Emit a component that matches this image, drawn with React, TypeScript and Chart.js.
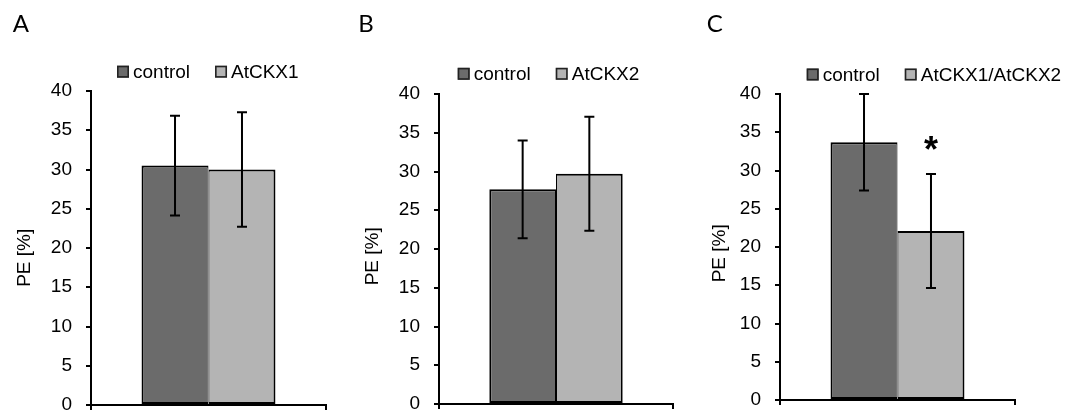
import React, { useEffect, useRef } from "react";
import { Chart, registerables } from "chart.js";

Chart.register(...registerables);

// ---------- data ----------
const categories = [""];
const panelLetters = ["A", "B", "C"];
const controlName = "control";
const treatmentNames = ["AtCKX1", "AtCKX2", "AtCKX1/AtCKX2"];
const controlMeans = [30.5, 27.7, 33.7];
const controlErrors = [6.35, 6.3, 6.3];
const treatmentMeans = [30.0, 29.7, 22.1];
const treatmentErrors = [7.3, 7.35, 7.45];
const treatmentMarks = ["", "", "*"];
const yMin = 0;
const yMax = 40;
const yStep = 5;
const yAxisTitle = "PE [%]";

// ---------- style ----------
const FONT = "'Liberation Sans', Arial, Helvetica, sans-serif";
const CONTROL_COLOR = "#6b6b6b";
const TREAT_COLOR = "#b4b4b4";
const CANVAS_H = 412;

type PanelLayout = {
  left: number;
  width: number;
  l: number;
  r: number;
  t: number;
  b: number;
  legendX: number;
  legendY: number;
  titleX: number;
  titleY: number;
  letterX: number;
};

const LAYOUT: PanelLayout[] = [
  { left: 0, width: 345, l: 91, r: 326, t: 91, b: 405, legendX: 117, legendY: 71.7, titleX: 25, titleY: 257.8, letterX: 12.7 },
  { left: 345, width: 355, l: 439, r: 673, t: 94, b: 404, legendX: 457.7, legendY: 73.8, titleX: 372.7, titleY: 256.3, letterX: 358.3 },
  { left: 700, width: 367, l: 780, r: 1015, t: 94, b: 400, legendX: 806.7, legendY: 74.5, titleX: 720, titleY: 253.3, letterX: 706.7 },
];

const decorPlugin = {
  id: "decor",
  afterDatasetsDraw(chart: any, _args: any, opts: any) {
    const ctx = chart.ctx as CanvasRenderingContext2D;
    const y = chart.scales.y;
    ctx.save();
    ctx.strokeStyle = "#000";
    ctx.lineWidth = 2;
    chart.data.datasets.forEach((ds: any, di: number) => {
      const meta = chart.getDatasetMeta(di);
      meta.data.forEach((bar: any, j: number) => {
        const v = ds.data[j];
        const e = opts.errors[di][j];
        const x = bar.x;
        const yt = y.getPixelForValue(v + e);
        const yb = y.getPixelForValue(v - e);
        ctx.beginPath();
        ctx.moveTo(x, yt);
        ctx.lineTo(x, yb);
        ctx.moveTo(x - 5, yt);
        ctx.lineTo(x + 5, yt);
        ctx.moveTo(x - 5, yb);
        ctx.lineTo(x + 5, yb);
        ctx.stroke();
        const mark = opts.marks[di] ? opts.marks[di][j] : "";
        if (mark) {
          ctx.fillStyle = "#000";
          ctx.font = `bold 36px ${FONT}`;
          ctx.textAlign = "center";
          ctx.textBaseline = "alphabetic";
          const m = ctx.measureText(mark);
          const cy = yt - 30.5;
          const base = cy + (m.actualBoundingBoxAscent - m.actualBoundingBoxDescent) / 2;
          ctx.fillText(mark, x, base);
        }
      });
    });
    ctx.restore();
  },
  afterDraw(chart: any, _args: any, opts: any) {
    const ctx = chart.ctx as CanvasRenderingContext2D;
    ctx.save();
    // legend
    ctx.font = `19px ${FONT}`;
    ctx.textBaseline = "middle";
    ctx.textAlign = "left";
    let x = opts.legendX;
    const cy = opts.legendY;
    chart.data.datasets.forEach((ds: any) => {
      ctx.fillStyle = ds.backgroundColor;
      ctx.fillRect(x, cy - 6, 12, 12);
      ctx.strokeStyle = "#222";
      ctx.lineWidth = 1.6;
      ctx.strokeRect(x + 0.8, cy - 5.2, 10.4, 10.4);
      ctx.fillStyle = "#000";
      ctx.fillText(ds.label, x + 16, cy + 1);
      x += 16 + ctx.measureText(ds.label).width + 25;
    });
    // y title
    ctx.save();
    ctx.translate(opts.titleX, opts.titleY);
    ctx.rotate(-Math.PI / 2);
    ctx.textAlign = "center";
    ctx.textBaseline = "middle";
    ctx.fillStyle = "#000";
    ctx.font = `19px ${FONT}`;
    ctx.fillText(opts.title, 0, 0);
    ctx.restore();
    // panel letter
    ctx.font = `24px Lato, 'Open Sans', sans-serif`;
    ctx.textAlign = "left";
    ctx.textBaseline = "alphabetic";
    ctx.fillStyle = "#000";
    ctx.fillText(opts.letter, opts.letterX, 32);
    ctx.restore();
  },
};

function Panel({ index }: { index: number }) {
  const ref = useRef<HTMLCanvasElement | null>(null);
  const L = LAYOUT[index];
  useEffect(() => {
    if (!ref.current) return;
    const yWidth = L.l - L.left;
    const xHeight = CANVAS_H - L.b;
    const chart = new Chart(ref.current, {
      type: "bar",
      data: {
        labels: categories,
        datasets: [
          {
            label: controlName,
            data: [controlMeans[index]],
            backgroundColor: CONTROL_COLOR,
            borderColor: "#000",
            borderWidth: { top: 2, left: 2, right: 1, bottom: 2 },
            borderSkipped: false,
          },
          {
            label: treatmentNames[index],
            data: [treatmentMeans[index]],
            backgroundColor: TREAT_COLOR,
            borderColor: "#000",
            borderWidth: { top: 2, left: 1, right: 2, bottom: 2 },
            borderSkipped: false,
          },
        ],
      },
      options: {
        animation: false,
        responsive: false,
        maintainAspectRatio: false,
        devicePixelRatio: 1,
        layout: {
          padding: { top: L.t, left: 0, bottom: 0, right: L.left + L.width - L.r },
        },
        datasets: {
          bar: { categoryPercentage: 0.57, barPercentage: 1 },
        },
        scales: {
          x: {
            offset: true,
            grid: {
              display: true,
              offset: true,
              drawOnChartArea: false,
              drawTicks: true,
              tickLength: 5,
              color: "#000",
              lineWidth: 2,
            },
            border: { display: true, color: "#000", width: 2 },
            ticks: { display: false },
            afterFit: (s: any) => {
              s.height = xHeight;
              s.paddingLeft = 0;
              s.paddingRight = 0;
            },
          },
          y: {
            min: yMin,
            max: yMax,
            ticks: {
              stepSize: yStep,
              color: "#000",
              padding: 14,
              font: { family: FONT, size: 19 },
            },
            grid: {
              drawOnChartArea: false,
              drawTicks: true,
              tickLength: 5,
              color: "#000",
              lineWidth: 2,
            },
            border: { display: true, color: "#000", width: 2 },
            afterFit: (s: any) => {
              s.width = yWidth;
              s.paddingTop = 0;
              s.paddingBottom = 0;
            },
          },
        },
        plugins: {
          legend: { display: false },
          tooltip: { enabled: false },
          decor: {
            errors: [[controlErrors[index]], [treatmentErrors[index]]],
            marks: [[""], [treatmentMarks[index]]],
            legendX: L.legendX - L.left,
            legendY: L.legendY,
            titleX: L.titleX - L.left,
            titleY: L.titleY,
            title: yAxisTitle,
            letter: panelLetters[index],
            letterX: L.letterX - L.left,
          },
        } as any,
      },
      plugins: [decorPlugin as any],
    });
    return () => chart.destroy();
  }, [index]);
  return (
    <canvas
      ref={ref}
      width={L.width}
      height={CANVAS_H}
      style={{ position: "absolute", left: L.left, top: 0, width: L.width, height: CANVAS_H }}
    />
  );
}

export default function App() {
  return (
    <div style={{ position: "absolute", left: 0, top: 0, width: 1067, height: CANVAS_H, background: "#fff", overflow: "hidden" }}>
      {LAYOUT.map((_, i) => (
        <Panel key={i} index={i} />
      ))}
    </div>
  );
}
